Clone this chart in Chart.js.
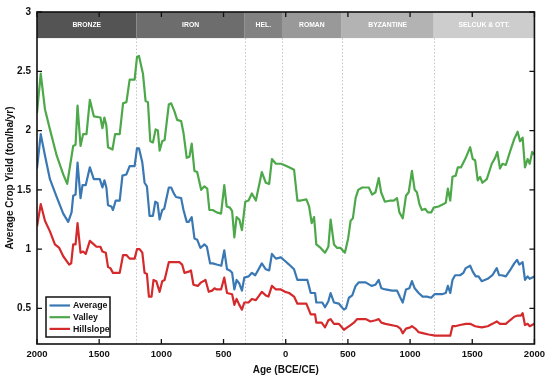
<!DOCTYPE html>
<html><head><meta charset="utf-8">
<script src="https://cdn.jsdelivr.net/npm/chart.js@4/dist/chart.umd.min.js"></script>
<style>html,body{margin:0;padding:0;background:#fff}canvas{display:block}</style>
</head><body>
<canvas id="c" width="550" height="378"></canvas>
<script>
// ---- data ----
const periodNames = ['BRONZE','IRON','HEL.','ROMAN','BYZANTINE','SELCUK & OTT.'];
const periodStarts = [-2000,-1200,-330,-30,450,1190];
const periodEnds = [-1200,-330,-30,450,1190,2000];
const periodColors = ['#545454','#6d6d6d','#828282','#999999','#b3b3b3','#cdcdcd'];
const xTickValues = [-2000,-1500,-1000,-500,0,500,1000,1500,2000];
const yTickValues = [0.5,1,1.5,2,2.5,3];

const valleyYears = [-2000,-1970,-1936,-1896,-1842,-1789,-1757,-1709,-1690,-1674,-1650,-1629,-1602,-1575,-1543,-1490,-1474,-1458,-1442,-1429,-1393,-1372,-1335,-1308,-1281,-1255,-1215,-1196,-1180,-1148,-1127,-1108,-1089,-1068,-1046,-1028,-1014,-993,-974,-940,-921,-894,-873,-841,-822,-796,-774,-756,-734,-712,-680,-654,-631,-614,-587,-555,-520,-494,-475,-449,-431,-413,-395,-373,-352,-325,-299,-272,-240,-192,-160,-133,-111,-79,-39,-13,27,67,94,121,166,188,209,228,246,281,316,343,361,388,414,441,476,502,522,540,562,583,615,668,695,722,748,767,797,842,869,895,914,941,967,989,1015,1037,1055,1075,1095,1122,1143,1170,1189,1229,1269,1287,1304,1323,1341,1367,1384,1410,1429,1448,1483,1504,1523,1544,1563,1582,1617,1657,1684,1702,1723,1743,1770,1803,1838,1865,1884,1905,1924,1945,1962,1982,2000];
const valleyValues = [2.15,2.48,2.18,2.01,1.79,1.63,1.55,1.87,1.88,2.21,1.87,1.97,1.97,2.26,2.12,2.11,2.02,2.11,2.04,1.86,1.84,1.97,1.97,2.23,2.24,2.43,2.43,2.62,2.63,2.48,2.25,2.24,1.91,1.90,2.01,2.00,1.83,1.91,1.92,2.22,2.23,2.16,2.09,2.08,1.98,1.77,1.78,1.89,1.66,1.65,1.50,1.53,1.51,1.33,1.33,1.31,1.30,1.54,1.36,1.35,1.32,1.10,1.27,1.25,1.16,1.40,1.41,1.47,1.41,1.65,1.56,1.55,1.76,1.72,1.72,1.71,1.69,1.67,1.41,1.41,1.42,1.36,1.22,1.27,1.04,1.01,0.97,1.02,1.25,1.04,1.01,1.01,0.97,1.09,1.24,1.26,1.43,1.50,1.52,1.52,1.46,1.48,1.60,1.48,1.40,1.41,1.41,1.43,1.31,1.26,1.45,1.48,1.66,1.50,1.48,1.38,1.33,1.34,1.31,1.31,1.35,1.36,1.38,1.39,1.51,1.41,1.61,1.62,1.69,1.69,1.73,1.77,1.86,1.76,1.75,1.58,1.61,1.56,1.59,1.72,1.77,1.82,1.68,1.72,1.71,1.82,1.93,1.99,1.91,1.94,1.69,1.76,1.72,1.82,1.80];

const averageYears = [-2000,-1970,-1936,-1896,-1842,-1789,-1749,-1722,-1709,-1690,-1674,-1650,-1634,-1608,-1575,-1543,-1495,-1474,-1458,-1442,-1429,-1402,-1389,-1367,-1335,-1313,-1281,-1255,-1215,-1196,-1180,-1153,-1135,-1116,-1095,-1068,-1049,-1031,-1014,-993,-977,-940,-921,-900,-882,-841,-822,-796,-780,-756,-734,-712,-686,-654,-634,-608,-587,-555,-518,-494,-472,-449,-431,-413,-395,-373,-352,-333,-299,-272,-245,-192,-160,-133,-111,-79,-39,-5,27,67,94,134,174,201,236,246,294,316,343,361,388,428,468,484,508,535,562,588,642,690,722,748,769,802,855,895,917,941,967,994,1015,1037,1069,1101,1135,1170,1197,1256,1287,1304,1323,1341,1362,1402,1429,1448,1483,1504,1528,1550,1576,1624,1662,1697,1716,1737,1770,1803,1838,1860,1878,1905,1924,1945,1962,2000];
const averageValues = [1.68,1.97,1.79,1.59,1.44,1.30,1.23,1.31,1.45,1.46,1.73,1.43,1.54,1.54,1.69,1.59,1.59,1.52,1.58,1.52,1.37,1.36,1.33,1.41,1.41,1.62,1.63,1.70,1.70,1.85,1.85,1.73,1.56,1.53,1.28,1.28,1.40,1.39,1.25,1.33,1.34,1.52,1.52,1.47,1.44,1.43,1.33,1.23,1.23,1.27,1.09,1.08,1.01,1.04,1.02,0.88,0.88,0.87,0.86,0.99,0.83,0.82,0.80,0.66,0.74,0.71,0.65,0.76,0.77,0.80,0.78,0.88,0.83,0.82,0.96,0.92,0.93,0.90,0.87,0.83,0.74,0.74,0.74,0.63,0.63,0.55,0.55,0.51,0.56,0.63,0.55,0.54,0.49,0.50,0.59,0.61,0.69,0.72,0.72,0.69,0.70,0.74,0.67,0.66,0.65,0.65,0.60,0.55,0.66,0.67,0.73,0.67,0.63,0.60,0.60,0.59,0.62,0.62,0.63,0.69,0.63,0.74,0.78,0.78,0.80,0.84,0.86,0.81,0.77,0.77,0.73,0.75,0.78,0.84,0.78,0.78,0.77,0.82,0.88,0.91,0.87,0.89,0.74,0.77,0.75,0.77];

const hillYears = [-2000,-1970,-1936,-1896,-1856,-1821,-1789,-1741,-1725,-1709,-1690,-1674,-1650,-1629,-1608,-1575,-1543,-1522,-1490,-1474,-1447,-1429,-1410,-1389,-1335,-1308,-1281,-1255,-1215,-1196,-1175,-1153,-1135,-1116,-1100,-1079,-1063,-1041,-1014,-993,-974,-940,-855,-833,-814,-780,-762,-742,-707,-680,-645,-619,-592,-573,-555,-520,-494,-472,-431,-413,-395,-373,-352,-333,-299,-272,-240,-192,-160,-139,-111,-79,-39,-5,27,67,94,166,201,236,246,289,316,343,361,388,428,468,495,522,548,575,642,682,722,748,769,802,895,922,941,967,1002,1015,1042,1069,1109,1149,1202,1269,1323,1341,1362,1402,1448,1483,1523,1576,1624,1662,1697,1723,1770,1803,1838,1865,1891,1905,1924,1945,1962,2000];
const hillValues = [1.19,1.38,1.24,1.15,1.04,1.01,0.94,0.87,0.88,1.04,1.04,1.22,0.97,0.98,0.96,1.07,1.04,1.02,1.02,0.98,0.97,0.85,0.84,0.80,0.80,0.95,0.95,0.92,0.92,1.00,1.00,0.97,0.80,0.79,0.60,0.60,0.74,0.73,0.64,0.73,0.74,0.89,0.89,0.87,0.80,0.81,0.82,0.70,0.69,0.72,0.74,0.64,0.65,0.67,0.66,0.66,0.76,0.63,0.62,0.53,0.58,0.53,0.49,0.55,0.55,0.58,0.57,0.64,0.61,0.60,0.69,0.66,0.66,0.64,0.63,0.60,0.54,0.54,0.45,0.45,0.38,0.38,0.34,0.40,0.41,0.37,0.37,0.32,0.34,0.36,0.38,0.41,0.41,0.39,0.40,0.41,0.38,0.37,0.35,0.33,0.29,0.33,0.34,0.35,0.33,0.30,0.29,0.28,0.27,0.27,0.27,0.35,0.35,0.36,0.37,0.37,0.35,0.34,0.35,0.37,0.39,0.37,0.37,0.40,0.43,0.44,0.44,0.46,0.36,0.37,0.35,0.37];

const seriesNames = ['Average','Valley','Hillslope'];
const seriesColors = ['#3a78b4','#4da84a','#d42a2c'];

// ---- build ----
const toPts = (xs, ys) => xs.map((x, i) => ({x: x, y: ys[i]}));
const FONT = "'Liberation Sans', Arial, Helvetica, sans-serif";

const decor = {
  id: 'decor',
  beforeDatasetsDraw(chart) {
    const {ctx, chartArea: a, scales: {x, y}} = chart;
    const bandTop = y.getPixelForValue(3), bandBot = y.getPixelForValue(2.78);
    ctx.save();
    ctx.strokeStyle = '#c4c4c4'; ctx.lineWidth = 1; ctx.setLineDash([1.5, 2]);
    for (let i = 1; i < periodStarts.length; i++) {
      const px = Math.round(x.getPixelForValue(periodStarts[i])) + 0.5;
      ctx.beginPath(); ctx.moveTo(px, bandBot); ctx.lineTo(px, a.bottom); ctx.stroke();
    }
    ctx.setLineDash([]);
    for (let i = 0; i < periodNames.length; i++) {
      const x0 = x.getPixelForValue(periodStarts[i]), x1 = x.getPixelForValue(periodEnds[i]);
      ctx.fillStyle = periodColors[i];
      ctx.fillRect(x0, bandTop, x1 - x0, bandBot - bandTop);
      ctx.fillStyle = '#ffffff';
      ctx.font = "bold 6.8px " + FONT;
      ctx.textAlign = 'center'; ctx.textBaseline = 'middle';
      ctx.fillText(periodNames[i], (x0 + x1) / 2, (bandTop + bandBot) / 2 + 0.5);
    }
    ctx.restore();
  },
  afterDatasetsDraw(chart) {
    const {ctx, chartArea: a, scales: {x, y}} = chart;
    ctx.save();
    ctx.strokeStyle = '#111'; ctx.lineWidth = 1.6;
    ctx.strokeRect(a.left, a.top, a.right - a.left, a.bottom - a.top);
    const tl = 5;
    ctx.lineWidth = 1.3;
    xTickValues.forEach(v => {
      const px = x.getPixelForValue(v);
      ctx.beginPath();
      ctx.moveTo(px, a.bottom); ctx.lineTo(px, a.bottom - tl);
      ctx.moveTo(px, a.top); ctx.lineTo(px, a.top + tl);
      ctx.stroke();
    });
    yTickValues.forEach(v => {
      const py = y.getPixelForValue(v);
      ctx.beginPath();
      ctx.moveTo(a.left, py); ctx.lineTo(a.left + tl, py);
      ctx.moveTo(a.right, py); ctx.lineTo(a.right - tl, py);
      ctx.stroke();
    });
    const lx = 46, ly = 297, lw = 64, lh = 40;
    ctx.fillStyle = '#fff'; ctx.fillRect(lx, ly, lw, lh);
    ctx.strokeStyle = '#111'; ctx.lineWidth = 1.5; ctx.strokeRect(lx, ly, lw, lh);
    ctx.font = "bold 8.8px " + FONT; ctx.textAlign = 'left'; ctx.textBaseline = 'middle';
    chart.data.datasets.forEach((ds, i) => {
      const yy = ly + 8.5 + i * 11.7;
      ctx.strokeStyle = ds.borderColor; ctx.lineWidth = 2.2;
      ctx.beginPath(); ctx.moveTo(lx + 3.5, yy); ctx.lineTo(lx + 24, yy); ctx.stroke();
      ctx.fillStyle = '#111'; ctx.fillText(ds.label, lx + 27, yy + 0.5);
    });
    ctx.restore();
  }
};

new Chart(document.getElementById('c'), {
  type: 'line',
  data: {
    datasets: [
      {label: seriesNames[0], data: toPts(averageYears, averageValues), borderColor: seriesColors[0]},
      {label: seriesNames[1], data: toPts(valleyYears, valleyValues), borderColor: seriesColors[1]},
      {label: seriesNames[2], data: toPts(hillYears, hillValues), borderColor: seriesColors[2]}
    ].map(d => Object.assign(d, {borderWidth: 2.2, pointRadius: 0, tension: 0, fill: false, borderJoinStyle: 'round'}))
  },
  options: {
    responsive: false, animation: false, devicePixelRatio: 1,
    layout: {padding: {top: 10, right: 14, left: 0, bottom: 0}},
    plugins: {legend: {display: false}, tooltip: {enabled: false}},
    scales: {
      x: {
        type: 'linear', min: -2000, max: 2000,
        afterBuildTicks: s => { s.ticks = xTickValues.map(v => ({value: v})); },
        afterFit: s => { s.height = 34; },
        ticks: {callback: v => String(Math.abs(v)), color: '#111', padding: 5, maxRotation: 0, font: {family: FONT, size: 9.5, weight: 'bold'}},
        grid: {display: false, drawTicks: false}, border: {display: false},
        title: {display: true, text: 'Age (BCE/CE)', color: '#111', padding: {top: 0, bottom: 2}, font: {family: FONT, size: 10, weight: 'bold'}}
      },
      y: {
        min: 0.2, max: 3,
        afterBuildTicks: s => { s.ticks = yTickValues.map(v => ({value: v})); },
        afterFit: s => { s.width = 37; },
        ticks: {callback: v => String(v), color: '#111', padding: 6, font: {family: FONT, size: 10, weight: 'bold'}},
        grid: {display: false, drawTicks: false}, border: {display: false},
        title: {display: true, text: 'Average Crop Yield (ton/ha/yr)', color: '#111', padding: {top: 4, bottom: 0}, font: {family: FONT, size: 10, weight: 'bold'}}
      }
    }
  },
  plugins: [decor]
});
</script>
</body></html>
